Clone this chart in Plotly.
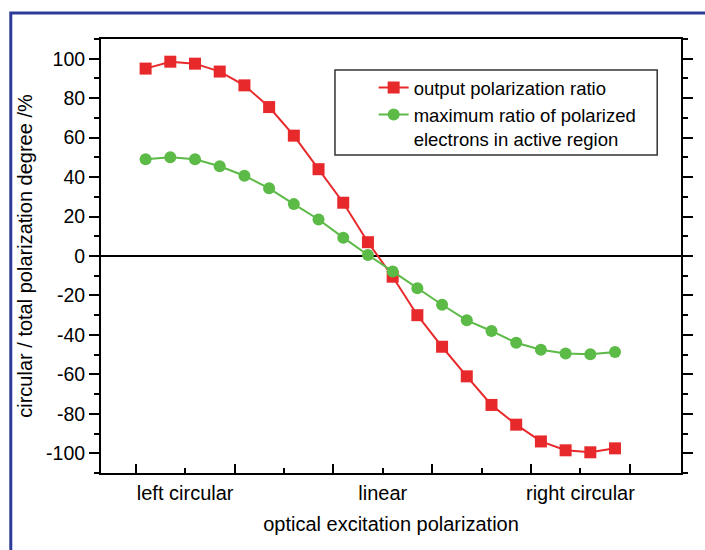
import plotly.graph_objects as go

# ---- data ----
x_index = [0, 1, 2, 3, 4, 5, 6, 7, 8, 9, 10, 11, 12, 13, 14, 15, 16, 17, 18, 19]
output_polarization = [95, 98.5, 97.5, 93.5, 86.5, 75.5, 61, 44, 27, 7,
                       -10.5, -30, -46, -61, -75.5, -85.5, -94, -98.5, -99.5, -97.5]
max_ratio_electrons = [49, 50, 49, 45.5, 40.7, 34.3, 26.3, 18.5, 9.3, 0.5,
                       -7.8, -16.4, -24.7, -32.6, -38, -44, -47.5, -49.4, -49.8, -48.7]

x_label_pos = [1.6, 5.6, 9.6, 13.6, 17.6]
x_label_text = ["left circular", "", "linear", "", "right circular"]
x_major_pos = [-0.4, 3.6, 7.6, 11.6, 15.6, 19.6]
y_tick_vals = [-100, -80, -60, -40, -20, 0, 20, 40, 60, 80, 100]
y_tick_text = ["-100", "-80", "-60", "-40", "-20", "0", "20", "40", "60", "80", "100"]

series_names = ["output polarization ratio",
                "maximum ratio of polarized<br>electrons in active region"]
RED = "#e8292b"
GREEN = "#5cba47"
FONT = "Liberation Sans, Arial, sans-serif"

W, H = 705, 550
ML, MR, MT, MB = 101, 19, 39, 77
PW, PH = W - ML - MR, H - MT - MB


def px_x(p):
    return (p - ML) / PW


def px_y(p):
    return (H - MB - p) / PH


fig = go.Figure()
fig.add_trace(go.Scatter(
    x=x_index, y=output_polarization, name=series_names[0], mode="lines+markers",
    line=dict(color=RED, width=2),
    marker=dict(symbol="square", size=12, color=RED)))
fig.add_trace(go.Scatter(
    x=x_index, y=max_ratio_electrons, name=series_names[1], mode="lines+markers",
    line=dict(color=GREEN, width=2),
    marker=dict(symbol="circle", size=12, color=GREEN)))

xrange = [-1.805, 21.67]

fig.update_layout(
    width=W, height=H,
    margin=dict(l=ML, r=MR, t=MT, b=MB, pad=0),
    paper_bgcolor="white", plot_bgcolor="white",
    font=dict(family=FONT, color="black", size=19),
    showlegend=True,
    legend=dict(x=px_x(376), y=px_y(69), xanchor="left", yanchor="top",
                bgcolor="rgba(0,0,0,0)", borderwidth=0,
                font=dict(size=18.5, family=FONT), valign="top",
                tracegroupgap=0),
    xaxis=dict(
        range=xrange, tickmode="array", tickvals=x_label_pos, ticktext=x_label_text,
        ticks="inside", ticklen=5, tickwidth=2, tickcolor="black",
        showline=True, linewidth=2, linecolor="black", mirror=True,
        showgrid=False, zeroline=False, ticklabelstandoff=1,
        tickfont=dict(size=20),
        minor=dict(tickmode="array", tickvals=x_major_pos, ticks="inside",
                   ticklen=9, tickwidth=2, tickcolor="black", showgrid=False),
        title=dict(text="optical excitation polarization", font=dict(size=20), standoff=14),
    ),
    xaxis2=dict(
        range=xrange, overlaying="x", side="top", anchor="y",
        tickmode="array", tickvals=x_label_pos, showticklabels=False,
        ticks="outside", ticklen=5, tickwidth=2, tickcolor="black",
        showline=False, showgrid=False, zeroline=False,
        minor=dict(tickmode="array", tickvals=x_major_pos, ticks="outside",
                   ticklen=10, tickwidth=2, tickcolor="black", showgrid=False),
    ),
    yaxis=dict(
        range=[-110, 110], tickmode="array", tickvals=y_tick_vals, ticktext=y_tick_text,
        ticks="outside", ticklen=10, tickwidth=2, tickcolor="black",
        showline=True, linewidth=2, linecolor="black", mirror="ticks",
        showgrid=False, zeroline=True, zerolinecolor="black", zerolinewidth=2,
        tickfont=dict(size=19.5),
        minor=dict(tickmode="linear", tick0=10, dtick=20, ticks="outside",
                   ticklen=5, tickwidth=2, tickcolor="black", showgrid=False),
        title=dict(text="circular / total polarization degree /%", font=dict(size=20), standoff=8),
    ),
    shapes=[
        dict(type="path", xref="paper", yref="paper",
             path=f"M{px_x(10)},{px_y(560)} L{px_x(10)},{px_y(13)} L{px_x(720)},{px_y(13)}",
             line=dict(color="#2f3b98", width=3), layer="above"),
        dict(type="rect", xref="paper", yref="paper",
             x0=px_x(337), x1=px_x(662), y0=px_y(155), y1=px_y(70),
             line=dict(color="#333333", width=1.5), layer="above"),
    ],
)

fig.write_html("out.html")
